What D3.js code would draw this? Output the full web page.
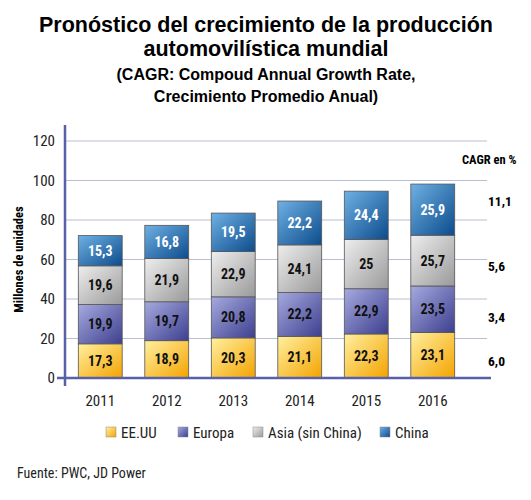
<!DOCTYPE html>
<html>
<head>
<meta charset="utf-8">
<script src="https://cdn.jsdelivr.net/npm/d3@7"></script>
<style>
  body { margin: 0; background: #fff; }
  .narrow { font-family: "Liberation Sans Narrow", "Roboto Condensed", "Liberation Sans", sans-serif; }
</style>
</head>
<body>
<div id="chart"></div>
<script>
var years = ["2011", "2012", "2013", "2014", "2015", "2016"];
var series = ["EE.UU", "Europa", "Asia (sin China)", "China"];
var eeuu = [17.3, 18.9, 20.3, 21.1, 22.3, 23.1];
var europa = [19.9, 19.7, 20.8, 22.2, 22.9, 23.5];
var asia = [19.6, 21.9, 22.9, 24.1, 25, 25.7];
var china = [15.3, 16.8, 19.5, 22.2, 24.4, 25.9];
var labels = [
  ["17,3", "18,9", "20,3", "21,1", "22,3", "23,1"],
  ["19,9", "19,7", "20,8", "22,2", "22,9", "23,5"],
  ["19,6", "21,9", "22,9", "24,1", "25", "25,7"],
  ["15,3", "16,8", "19,5", "22,2", "24,4", "25,9"]
];
var cagr = ["6,0", "3,4", "5,6", "11,1"];
var yTicks = [0, 20, 40, 60, 80, 100, 120];

var width = 531, height = 500;
var svg = d3.select("#chart").append("svg")
  .attr("width", width).attr("height", height);

var defs = svg.append("defs");
var grads = [
  ["#fff0a0", "#f4a300"],
  ["#a6aadf", "#3d3f8e"],
  ["#eeeeee", "#9a9a9a"],
  ["#6fb0e4", "#0c4c8c"]
];
grads.forEach(function (g, i) {
  var lg = defs.append("linearGradient").attr("id", "g" + i)
    .attr("x1", "0%").attr("y1", "0%").attr("x2", "100%").attr("y2", "100%");
  lg.append("stop").attr("offset", "0%").attr("stop-color", g[0]);
  lg.append("stop").attr("offset", "100%").attr("stop-color", g[1]);
});

// titles
var title = svg.append("g").attr("font-family", "'Liberation Sans', Arial, sans-serif")
  .attr("font-weight", "bold").attr("text-anchor", "middle");
title.append("text").attr("x", 266).attr("y", 32).attr("font-size", 21.5)
  .text("Pronóstico del crecimiento de la producción");
title.append("text").attr("x", 266).attr("y", 56).attr("font-size", 21.5)
  .text("automovilística mundial");
title.append("text").attr("x", 266).attr("y", 80).attr("font-size", 16)
  .text("(CAGR: Compoud Annual Growth Rate,");
title.append("text").attr("x", 266).attr("y", 102).attr("font-size", 16)
  .text("Crecimiento Promedio Anual)");

var y = d3.scaleLinear().domain([0, 120]).range([378, 141]);
var x = d3.scaleBand().domain(years).range([65, 468]).paddingInner(0.34).paddingOuter(0.2);

// gridlines
svg.append("g").selectAll("line").data(yTicks.slice(1)).enter().append("line")
  .attr("x1", 65).attr("x2", 487)
  .attr("y1", function (d) { return y(d); }).attr("y2", function (d) { return y(d); })
  .attr("stroke", "#b8bfd4").attr("stroke-width", 1);

// y tick labels
svg.append("g").attr("class", "narrow").selectAll("text").data(yTicks).enter().append("text")
  .attr("x", 55).attr("y", function (d) { return y(d) + 5; })
  .attr("text-anchor", "end").attr("font-size", 15).attr("fill", "#222")
  .text(function (d) { return d; });

svg.append("text").attr("class", "narrow")
  .attr("transform", "translate(23," + y(60) + ") rotate(-90)")
  .attr("text-anchor", "middle").attr("font-size", 12.5).attr("font-weight", "bold")
  .text("Millones de unidades");

// stacked bars
var rows = years.map(function (yr, i) {
  return { year: yr, s0: eeuu[i], s1: europa[i], s2: asia[i], s3: china[i] };
});
var stack = d3.stack().keys(["s0", "s1", "s2", "s3"])(rows);

var layers = svg.append("g").selectAll("g").data(stack).enter().append("g");
layers.selectAll("rect").data(function (d) { return d; }).enter().append("rect")
  .attr("x", function (d) { return x(d.data.year); })
  .attr("width", x.bandwidth())
  .attr("y", function (d) { return y(d[1]); })
  .attr("height", function (d) { return y(d[0]) - y(d[1]); })
  .attr("fill", function () { return "url(#g" + d3.select(this.parentNode).datum().index + ")"; })
  .attr("stroke", "#555").attr("stroke-width", 0.8);

layers.selectAll("text").data(function (d) { return d; }).enter().append("text")
  .attr("class", "narrow")
  .attr("x", function (d) { return x(d.data.year) + x.bandwidth() / 2; })
  .attr("y", function (d) { return (y(d[0]) + y(d[1])) / 2 + 5; })
  .attr("text-anchor", "middle").attr("font-size", 14).attr("font-weight", "bold")
  .attr("fill", function () { return d3.select(this.parentNode).datum().index == 3 ? "#fff" : "#111"; })
  .text(function (d, i) { return labels[d3.select(this.parentNode).datum().index][i]; });

// axes lines
svg.append("line").attr("x1", 65).attr("x2", 65).attr("y1", 125).attr("y2", 386)
  .attr("stroke", "#5860a8").attr("stroke-width", 2.5);
svg.append("line").attr("x1", 57).attr("x2", 491).attr("y1", 378).attr("y2", 378)
  .attr("stroke", "#5860a8").attr("stroke-width", 2.5);

// year labels
svg.append("g").attr("class", "narrow").selectAll("text").data(years).enter().append("text")
  .attr("x", function (d) { return x(d) + x.bandwidth() / 2; })
  .attr("y", 406).attr("text-anchor", "middle").attr("font-size", 15).attr("fill", "#222")
  .text(function (d) { return d; });

// CAGR column
svg.append("text").attr("class", "narrow").attr("x", 462).attr("y", 164)
  .attr("font-size", 12.5).attr("font-weight", "bold").text("CAGR en %");
var cagrY = [361, 317, 266, 201];
svg.append("g").attr("class", "narrow").selectAll("text").data(cagr).enter().append("text")
  .attr("x", 488).attr("y", function (d, i) { return cagrY[i] + 5; })
  .attr("font-size", 13.5).attr("font-weight", "bold").text(function (d) { return d; });

// legend
var legX = [106, 178, 253, 380];
var leg = svg.append("g").selectAll("g").data(series).enter().append("g")
  .attr("transform", function (d, i) { return "translate(" + legX[i] + ",427)"; });
leg.append("rect").attr("width", 10).attr("height", 10)
  .attr("fill", function (d, i) { return "url(#g" + i + ")"; })
  .attr("stroke", "#888").attr("stroke-width", 0.5);
leg.append("text").attr("class", "narrow").attr("x", 15).attr("y", 10.5)
  .attr("font-size", 15).attr("fill", "#222").text(function (d) { return d; });

svg.append("text").attr("class", "narrow").attr("x", 17).attr("y", 478)
  .attr("font-size", 14).attr("fill", "#222").text("Fuente: PWC, JD Power");
</script>
</body>
</html>
